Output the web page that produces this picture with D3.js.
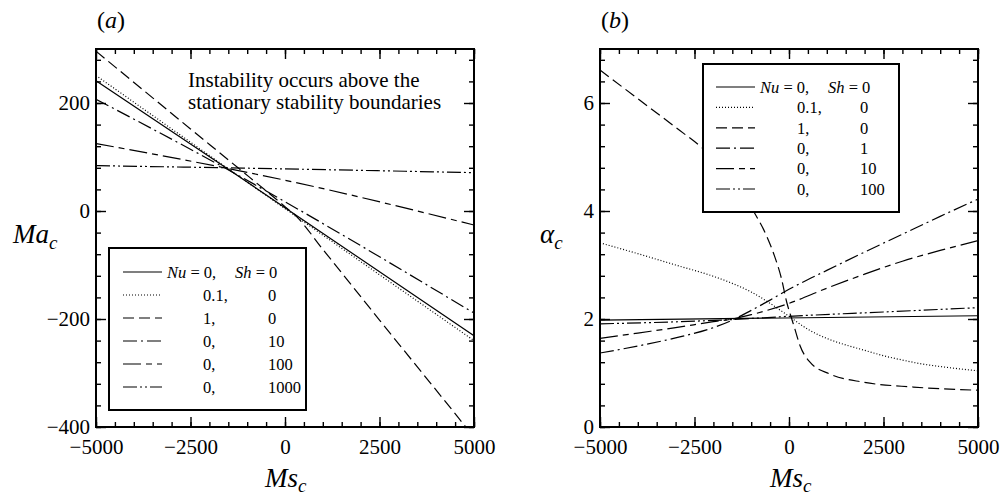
<!DOCTYPE html>
<html>
<head>
<meta charset="utf-8">
<title>Stationary stability boundaries</title>
<script src="https://d3js.org/d3.v7.min.js"></script>
<style>
    body { margin: 0; background: #fff; }
    svg text { font-family: "Liberation Serif", "DejaVu Serif", serif; }
</style>
</head>
<body>
<script>
    // ---- values ----
    const msTicks = [-5000, -2500, 0, 2500, 5000];
    const msMinor = d3.range(-5000, 5001, 500);
    const maTicks = [-400, -200, 0, 200];
    const maMinor = d3.range(-400, 300, 40);
    const alphaTicks = [0, 2, 4, 6];
    const alphaMinor = d3.range(0, 18).map(i => i * 0.4);

    // (a) Ma_c against Ms_c, pairs [Ms, Ma]
    const maNu0Sh0 = [[-5000, 241], [-1600, 82], [5000, -231]];
    const maNu01 = [[-5000, 251], [-1600, 83], [5000, -240]];
    const maNu1 = [[-5000, 296], [-2500, 152], [-1260, 81], [0, 8], [300, -10], [1000, -71], [2500, -202], [4600, -384], [5000, -419]];
    const maSh10 = [[-5000, 207], [-1600, 80], [5000, -189]];
    const maSh100 = [[-5000, 125], [-1600, 80], [0, 57], [5000, -26]];
    const maSh1000 = [[-5000, 84], [-1600, 80], [5000, 71]];

    // (b) alpha_c against Ms_c, pairs [Ms, alpha]
    const alNu0Sh0 = [[-5000, 1.98], [5000, 2.06]];
    const alNu01 = [[-5000, 3.41], [-4000, 3.21], [-3000, 3.0], [-2000, 2.79], [-1500, 2.66], [-1000, 2.5],
        [-500, 2.29], [0, 2.05], [500, 1.81], [1000, 1.64], [1500, 1.52], [2000, 1.42], [2500, 1.32], [3000, 1.24],
        [3500, 1.17], [4000, 1.12], [5000, 1.04]];
    const alNu1 = [[-5000, 6.61], [-4000, 6.08], [-3000, 5.55], [-2300, 5.17], [-1500, 4.62], [-900, 3.95], [-600, 3.55],
        [-400, 3.2], [-200, 2.75], [-60, 2.31], [50, 2.05], [140, 1.85], [290, 1.51], [555, 1.2], [1085, 0.98],
        [1965, 0.83], [3290, 0.74], [5000, 0.68]];
    const alSh1 = [[-5000, 1.37], [-4000, 1.5], [-3000, 1.65], [-2000, 1.84], [-1500, 1.98], [-1000, 2.16], [-500, 2.35],
        [0, 2.55], [1000, 2.9], [2000, 3.24], [3000, 3.57], [4000, 3.9], [5000, 4.22]];
    const alSh10 = [[-5000, 1.64], [-4000, 1.74], [-3000, 1.84], [-2000, 1.95], [-1500, 2.0], [-1000, 2.08], [0, 2.29],
        [1000, 2.57], [2000, 2.83], [3000, 3.07], [4000, 3.27], [5000, 3.45]];
    const alSh100 = [[-5000, 1.91], [-1500, 1.99], [0, 2.05], [2500, 2.13], [5000, 2.21]];

    // legend entries (first row is written as "Nu = 0,  Sh = 0")
    const nuLabels = ["0,", "0.1,", "1,", "0,", "0,", "0,"];
    const shLabelsA = ["0", "0", "0", "10", "100", "1000"];
    const shLabelsB = ["0", "0", "0", "1", "10", "100"];

    // line styles, same order in both panels
    const dashes = [null, "1,2", "11,5", "14,4,2,4", "18,5,6,5", "14,3,2,3,2,3"];

    const serif = '"Liberation Serif", "DejaVu Serif", serif';
    const width = 1000;
    const height = 495;

    const svg = d3.select("body")
        .append("svg")
        .attr("width", width)
        .attr("height", height)
        .attr("font-family", serif);

    function drawPanel(p) {
        const x = d3.scaleLinear().domain([-5000, 5000]).range([p.left, p.right]);
        const y = d3.scaleLinear().domain(p.yDomain).range([p.bottom, p.top]);
        const g = svg.append("g");

        g.append("clipPath").attr("id", p.id + "-clip")
            .append("rect")
            .attr("x", p.left).attr("y", p.top)
            .attr("width", p.right - p.left).attr("height", p.bottom - p.top);

        // curves
        const line = d3.line()
            .x(d => x(d[0]))
            .y(d => y(d[1]))
            .curve(d3.curveMonotoneX);

        p.series.forEach((s, i) => {
            g.append("path")
                .datum(s)
                .attr("clip-path", `url(#${p.id}-clip)`)
                .attr("fill", "none")
                .attr("stroke", "#000")
                .attr("stroke-width", 1.2)
                .attr("stroke-dasharray", dashes[i])
                .attr("d", line);
        });

        // ticks on all four sides, pointing inwards
        const axes = [
            [d3.axisBottom(x).tickValues(msTicks).tickSize(-10).tickPadding(12).tickFormat(d3.format("d")), `translate(0,${p.bottom})`],
            [d3.axisBottom(x).tickValues(msMinor).tickSize(-5).tickFormat(""), `translate(0,${p.bottom})`],
            [d3.axisTop(x).tickValues(msTicks).tickSize(-10).tickFormat(""), `translate(0,${p.top})`],
            [d3.axisTop(x).tickValues(msMinor).tickSize(-5).tickFormat(""), `translate(0,${p.top})`],
            [d3.axisLeft(y).tickValues(p.yTicks).tickSize(-10).tickPadding(6).tickFormat(d3.format("d")), `translate(${p.left},0)`],
            [d3.axisLeft(y).tickValues(p.yMinor).tickSize(-5).tickFormat(""), `translate(${p.left},0)`],
            [d3.axisRight(y).tickValues(p.yTicks).tickSize(-10).tickFormat(""), `translate(${p.right},0)`],
            [d3.axisRight(y).tickValues(p.yMinor).tickSize(-5).tickFormat(""), `translate(${p.right},0)`]
        ];
        axes.forEach(([ax, tr]) => {
            const a = g.append("g").attr("transform", tr).call(ax)
                .attr("font-family", serif);
            a.select(".domain").remove();
            a.selectAll("line").attr("stroke", "#000").attr("stroke-width", 1.4);
            a.selectAll("text")
                .attr("fill", "#000")
                .style("font-family", serif)
                .style("font-size", "21px");
        });

        // frame
        g.append("rect")
            .attr("x", p.left).attr("y", p.top)
            .attr("width", p.right - p.left).attr("height", p.bottom - p.top)
            .attr("fill", "none")
            .attr("stroke", "#000")
            .attr("stroke-width", 2);

        // panel letter
        const t = g.append("text").attr("x", p.left + 1).attr("y", 28).style("font-size", "24px");
        t.append("tspan").text("(");
        t.append("tspan").attr("font-style", "italic").text(p.letter);
        t.append("tspan").text(")");

        // axis titles
        const yt = g.append("text").attr("x", p.yLabelX).attr("y", 243).style("font-size", "27px").attr("font-style", "italic");
        yt.append("tspan").text(p.yLabel);
        yt.append("tspan").attr("dy", 6).style("font-size", "19px").text("c");

        const xt = g.append("text").attr("x", p.xLabelX).attr("y", 487).style("font-size", "27px").attr("font-style", "italic");
        xt.append("tspan").text("Ms");
        xt.append("tspan").attr("dy", 5).style("font-size", "19px").text("c");

        // legend
        const L = p.legend;
        g.append("rect")
            .attr("x", L.x0).attr("y", L.y0)
            .attr("width", L.x1 - L.x0).attr("height", L.y1 - L.y0)
            .attr("fill", "#fff")
            .attr("stroke", "#000")
            .attr("stroke-width", 2);

        p.shLabels.forEach((sh, i) => {
            const ry = L.row0 + L.step * i;
            g.append("line")
                .attr("x1", L.lineX0).attr("x2", L.lineX1)
                .attr("y1", ry).attr("y2", ry)
                .attr("stroke", "#000")
                .attr("stroke-width", 1.2)
                .attr("stroke-dasharray", dashes[i]);

            if (i === 0) {
                const r = g.append("text").attr("x", L.nuX).attr("y", ry).attr("dy", "0.35em").style("font-size", "16.5px");
                r.append("tspan").attr("font-style", "italic").text("Nu");
                r.append("tspan").text(" = " + nuLabels[i]);
                const s = g.append("text").attr("x", L.shX).attr("y", ry).attr("dy", "0.35em").style("font-size", "16.5px");
                s.append("tspan").attr("font-style", "italic").text("Sh");
                s.append("tspan").text(" = " + sh);
            } else {
                g.append("text").attr("x", L.valX).attr("y", ry).attr("dy", "0.35em")
                    .style("font-size", "16.5px").text(nuLabels[i]);
                g.append("text").attr("x", L.shValX).attr("y", ry).attr("dy", "0.35em")
                    .style("font-size", "16.5px").text(sh);
            }
        });

        if (p.note) {
            p.note.forEach((s, i) => {
                g.append("text")
                    .attr("x", 188)
                    .attr("y", 87 + 21.5 * i)
                    .style("font-size", "21px")
                    .text(s);
            });
        }
    }

    drawPanel({
        id: "a", letter: "a",
        left: 96, right: 474, top: 49, bottom: 427,
        yDomain: [-400, 300], yTicks: maTicks, yMinor: maMinor,
        yLabel: "Ma", yLabelX: 13, xLabelX: 265,
        series: [maNu0Sh0, maNu01, maNu1, maSh10, maSh100, maSh1000],
        shLabels: shLabelsA,
        legend: { x0: 109, x1: 306, y0: 248, y1: 410, row0: 272, step: 23,
                  lineX0: 123, lineX1: 162, nuX: 167, shX: 235, valX: 203, shValX: 268 },
        note: ["Instability occurs above the", "stationary stability boundaries"]
    });

    drawPanel({
        id: "b", letter: "b",
        left: 600, right: 978, top: 49, bottom: 427,
        yDomain: [0, 7], yTicks: alphaTicks, yMinor: alphaMinor,
        yLabel: "\u03b1", yLabelX: 540, xLabelX: 770,
        series: [alNu0Sh0, alNu01, alNu1, alSh1, alSh10, alSh100],
        shLabels: shLabelsB,
        legend: { x0: 703, x1: 899, y0: 64, y1: 212, row0: 87, step: 20.4,
                  lineX0: 716, lineX1: 755, nuX: 760, shX: 828, valX: 797, shValX: 860 }
    });
</script>
</body>
</html>
